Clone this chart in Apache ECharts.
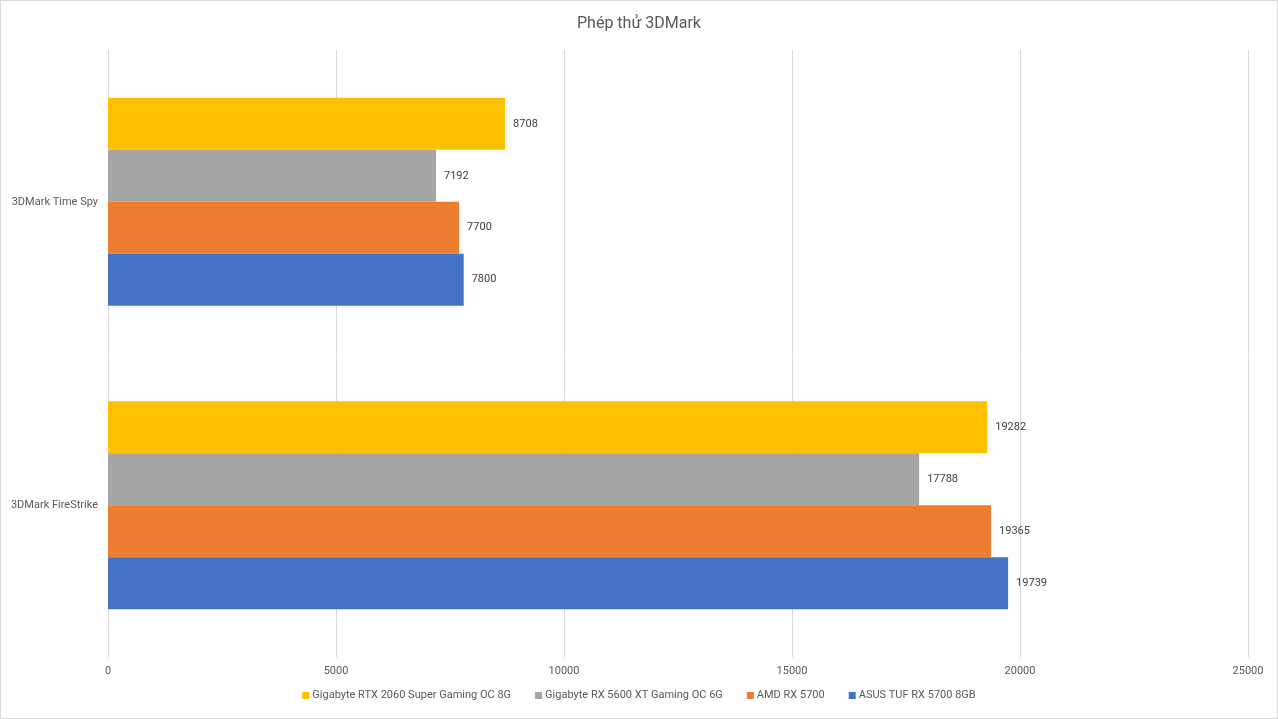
<!DOCTYPE html>
<html>
<head>
<meta charset="utf-8">
<script src="https://cdn.jsdelivr.net/npm/echarts@6/dist/echarts.min.js"></script>
<style>
  html, body { margin: 0; padding: 0; background: #fff; }
  #chart { width: 1278px; height: 719px; box-sizing: border-box; border: 1px solid #d9d9d9; }
</style>
</head>
<body>
<div id="chart"></div>
<script>
// categories bottom to top
const categories = ['3DMark FireStrike', '3DMark Time Spy'];

const rtx2060Super = [19282, 8708];
const rx5600xt = [17788, 7192];
const amdRx5700 = [19365, 7700];
const asusTufRx5700 = [19739, 7800];

const seriesNames = [
  'Gigabyte RTX 2060 Super Gaming OC 8G',
  'Gigabyte RX 5600 XT Gaming OC 6G',
  'AMD RX 5700',
  'ASUS TUF RX 5700 8GB'
];
const seriesData = [rtx2060Super, rx5600xt, amdRx5700, asusTufRx5700];
const colors = ['#FFC000', '#A5A5A5', '#ED7D31', '#4472C4'];

const font = 'Roboto, "Noto Sans", sans-serif';

const chart = echarts.init(document.getElementById('chart'));
chart.setOption({
  animation: false,
  textStyle: { fontFamily: font },
  title: {
    text: 'Phép thử 3DMark',
    left: 'center',
    top: 10,
    textStyle: { fontSize: 16, fontWeight: 'normal', color: '#595959', fontFamily: font }
  },
  legend: {
    bottom: 12,
    left: 'center',
    itemWidth: 7,
    itemHeight: 7,
    itemGap: 24,
    icon: 'rect',
    textStyle: { fontSize: 11, color: '#595959', padding: [0, 0, 0, -2] },
    data: seriesNames
  },
  grid: { left: 107, right: 29, top: 49, bottom: 61, containLabel: false },
  xAxis: {
    type: 'value',
    min: 0,
    max: 25000,
    interval: 5000,
    axisLine: { show: false },
    axisTick: { show: false },
    axisLabel: { color: '#595959', fontSize: 11, margin: 9, formatter: (v) => String(v) },
    splitLine: { lineStyle: { color: '#d9d9d9', width: 1 } }
  },
  yAxis: {
    type: 'category',
    data: categories,
    axisLine: { show: false },
    axisTick: { show: false },
    axisLabel: { color: '#595959', fontSize: 11, margin: 10 }
  },
  series: seriesNames.map((name, i) => ({
    name,
    type: 'bar',
    data: seriesData[i],
    barGap: '0%',
    barCategoryGap: '31.5%',
    itemStyle: { color: colors[i] },
    label: { show: true, position: 'right', distance: 8, color: '#404040', fontSize: 11 }
  }))
});
</script>
</body>
</html>
